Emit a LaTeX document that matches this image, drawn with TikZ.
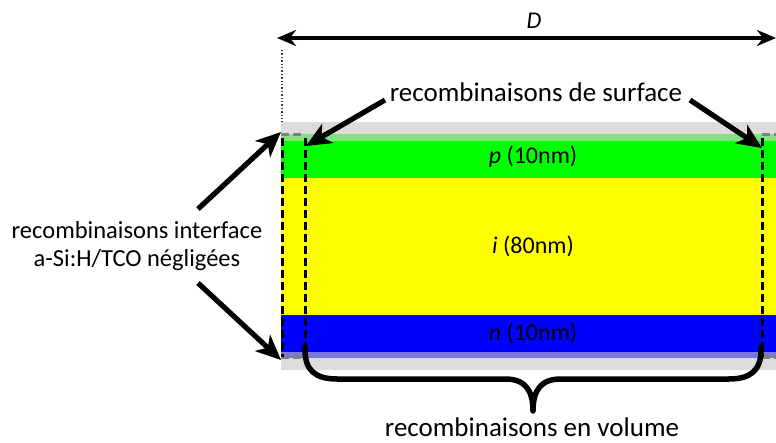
\documentclass[tikz,border=0pt]{standalone}
\usepackage{fontspec}
\setmainfont{Carlito}
\usetikzlibrary{arrows.meta}
\definecolor{tco}{RGB}{220,220,220}
\definecolor{lgreen}{RGB}{128,226,128}
\definecolor{lblue}{RGB}{122,122,222}
\definecolor{pgreen}{RGB}{0,255,0}
\definecolor{iyellow}{RGB}{255,255,0}
\definecolor{nblue}{RGB}{0,0,255}
\tikzset{
  big/.style={font=\fontsize{27}{32}\selectfont},
  mid/.style={font=\fontsize{24.5}{30}\selectfont},
  lay/.style={font=\fontsize{24}{28}\selectfont},
  ptr/.style={line width=5.2pt,-{Stealth[length=25pt,width=22pt,inset=7pt]}},
  dimarrow/.style={line width=3.2pt,{Stealth[length=19pt,width=16pt,inset=6pt]}-{Stealth[length=19pt,width=16pt,inset=6pt]}},
  dashv/.style={line width=3pt,dash pattern=on 8pt off 4pt},
  dashh/.style={line width=3pt,dash pattern=on 8pt off 4pt,draw=black!50},
}
\begin{document}
\begin{tikzpicture}[x=1pt,y=-1pt]
\useasboundingbox (0,0) rectangle (776,443);
% layers
\fill[tco] (281,122) rectangle (790,134);
\fill[lgreen] (281,134) rectangle (790,141);
\fill[pgreen] (281,141) rectangle (790,178);
\fill[iyellow] (281,178) rectangle (790,315);
\fill[nblue] (281,315) rectangle (790,352);
\fill[lblue] (281,352) rectangle (790,358);
\fill[tco] (281,358) rectangle (790,370);
% layer labels
\node[lay] (pl) at (533,157) {\textit{p} (10nm)};
\node[lay] (il) at (533,246) {\textit{i} (80nm)};
\node[lay] (nl) at (533,333) {\textit{n} (10nm)};
% dashed surface regions
\draw[dashh] (281,135) -- (305,135);
\draw[dashh] (281,357) -- (305,357);
\draw[dashv] (282,138) -- (282,357);
\draw[dashv] (305,138) -- (305,357);
\draw[dashh] (762,135) -- (790,135);
\draw[dashh] (762,357) -- (790,357);
\draw[dashv] (762,138) -- (762,357);
% dimension D
\coordinate (dl) at (277,38);
\coordinate (dr) at (776,38);
\draw[dimarrow] (dl) -- (dr);
\node[font=\fontsize{24}{28}\selectfont\itshape] (D) at (534,21) {D};
\draw[line width=1.4pt,dotted,black!75] (282,50) -- (282,122);
% surface recombination
\node[big] (surf) at (536,92) {recombinaisons de surface};
\coordinate (sL0) at (385,100);
\coordinate (sL) at (306,146);
\coordinate (sR0) at (690,100);
\coordinate (sR) at (762,148);
\draw[ptr] (sL0) -- (sL);
\draw[ptr] (sR0) -- (sR);
% interface
\node[mid,align=center] (intf) at (137,246) {recombinaisons interface\\[-2pt]a-Si:H/TCO négligées};
\coordinate (iT0) at (198,209);
\coordinate (iT) at (281,132);
\coordinate (iB0) at (198,283);
\coordinate (iB) at (281,360);
\draw[ptr] (iT0) -- (iT);
\draw[ptr] (iB0) -- (iB);
% brace
\draw[line width=5.5pt,line cap=round,line join=round]
  (305,347) -- (305,350) .. controls (305,370) and (315,379) .. (337,379)
  -- (505,379) .. controls (525,379) and (533,390) .. (533,411)
  .. controls (533,390) and (541,379) .. (561,379)
  -- (729,379) .. controls (751,379) and (761,370) .. (761,350) -- (761,347);
\node[big,anchor=base,inner sep=0pt] (vol) at (532,436) {recombinaisons en volume};
\end{tikzpicture}
\end{document}
